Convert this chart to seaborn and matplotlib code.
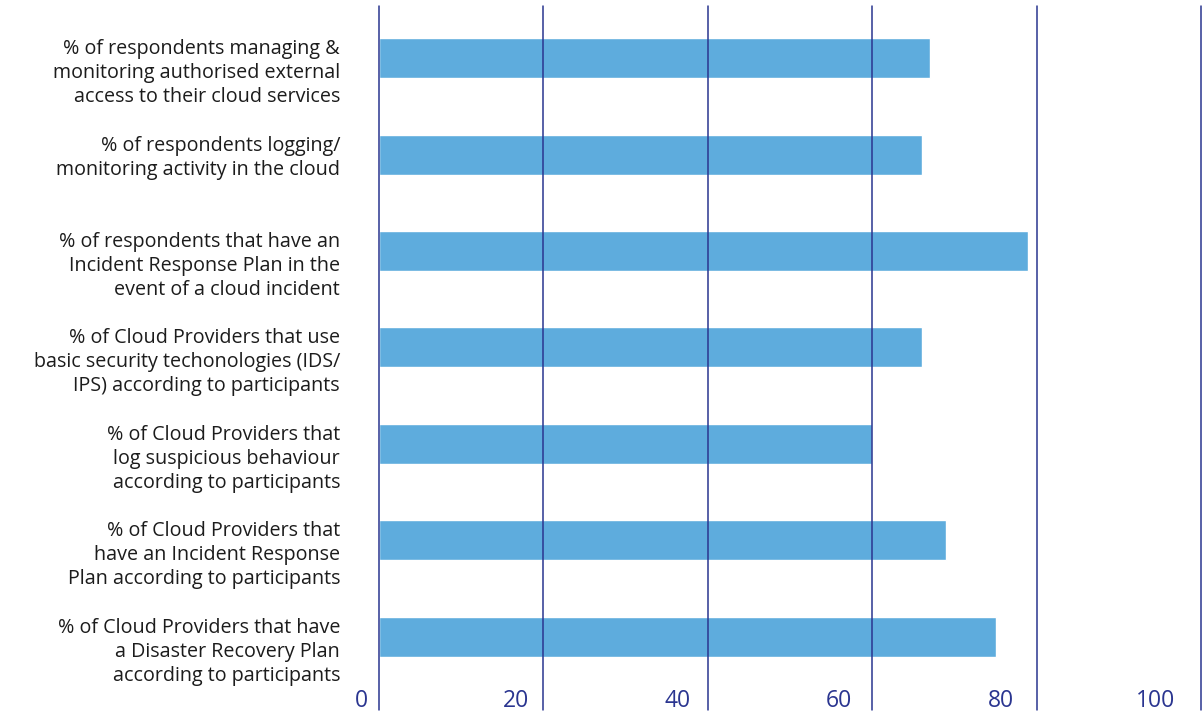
import matplotlib
matplotlib.use("Agg")
import matplotlib.pyplot as plt
import matplotlib.transforms as mtransforms
import seaborn as sns
import pandas as pd

categories = [
    "% of respondents managing &\nmonitoring authorised external\naccess to their cloud services",
    "% of respondents logging/\nmonitoring activity in the cloud",
    "% of respondents that have an\nIncident Response Plan in the\nevent of a cloud incident",
    "% of Cloud Providers that use\nbasic security techonologies (IDS/\nIPS) according to participants",
    "% of Cloud Providers that\nlog suspicious behaviour\naccording to participants",
    "% of Cloud Providers that\nhave an Incident Response\nPlan according to participants",
    "% of Cloud Providers that have\na Disaster Recovery Plan\naccording to participants",
]
values = [67, 66, 79, 66, 60, 69, 75]
x_ticks = [0, 20, 40, 60, 80, 100]

sns.set_theme(style="white")
plt.rcParams["font.family"] = ["Open Sans", "DejaVu Sans"]

bar_color = "#5eacdd"
navy = "#2a3590"
text_color = "#1c1c1c"

df = pd.DataFrame({"label": categories, "value": values})

fig = plt.figure(figsize=(12.02, 7.16), dpi=100)
ax = fig.add_axes([379 / 1202, 6 / 716, (1201 - 379) / 1202, (710 - 6) / 716])

sns.barplot(data=df, y="label", x="value", orient="h", color=bar_color,
            width=0.415, saturation=1, ax=ax, zorder=1)

ax.set_xlim(0, 100)
ax.set_ylim(len(categories) - 0.24, -0.54)
ax.set_xticks(x_ticks)
ax.set_xticklabels([str(t) for t in x_ticks])
ax.set_xlabel("")
ax.set_ylabel("")

for s in ax.spines.values():
    s.set_visible(False)

ax.set_axisbelow(False)
ax.grid(axis="x", color=navy, linewidth=1.1, zorder=3)
ax.grid(axis="y", visible=False)

ax.tick_params(axis="x", length=0, pad=-15, labelsize=16.5, labelcolor=navy)
ax.tick_params(axis="y", length=0, pad=28, labelsize=14.2, labelcolor=text_color)

# Keep the 0 and 100 gridlines fully visible at the axes edges
for gl in ax.get_xgridlines():
    gl.set_clip_on(False)

# Value labels sit just left of their gridlines, drifting slightly further left
for i, lbl in enumerate(ax.get_xticklabels()):
    lbl.set_horizontalalignment("right")
    offset = mtransforms.ScaledTranslation(-(11 + 3 * i) / 100, 0, fig.dpi_scale_trans)
    lbl.set_transform(lbl.get_transform() + offset)

# Category labels hang from the top edge of their bar
lift = mtransforms.ScaledTranslation(0, 19 / 100, fig.dpi_scale_trans)
for lbl in ax.get_yticklabels():
    lbl.set_horizontalalignment("right")
    lbl.set_verticalalignment("top")
    lbl.set_multialignment("right")
    lbl.set_linespacing(1.27)
    lbl.set_transform(lbl.get_transform() + lift)

fig.savefig("out.png", dpi=100)
